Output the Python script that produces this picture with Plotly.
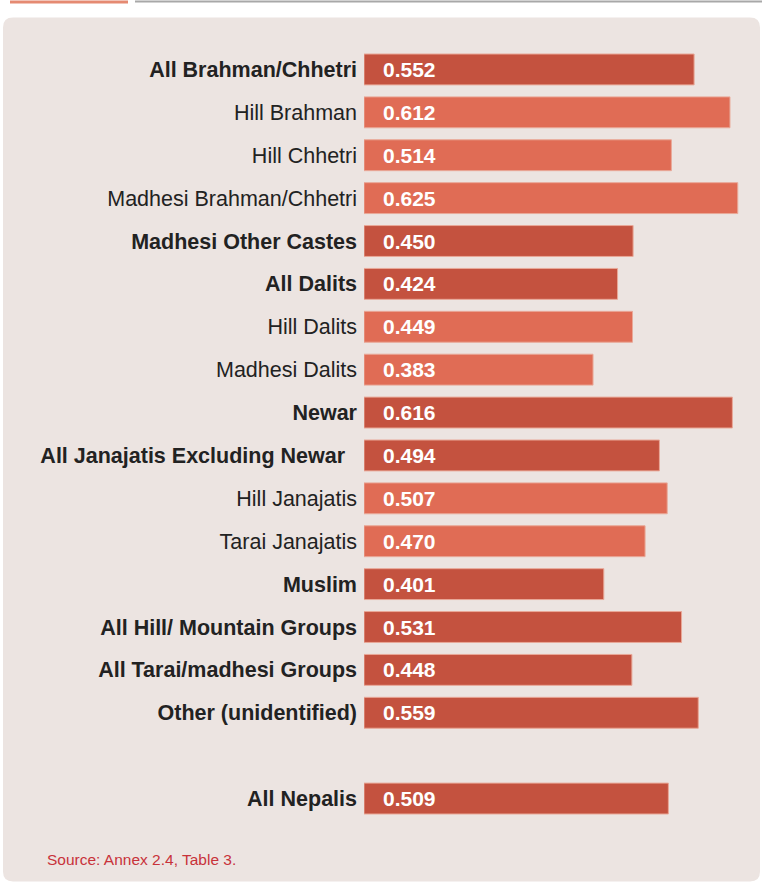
import plotly.graph_objects as go

categories = [
    "All Brahman/Chhetri", "Hill Brahman", "Hill Chhetri", "Madhesi Brahman/Chhetri",
    "Madhesi Other Castes", "All Dalits", "Hill Dalits", "Madhesi Dalits", "Newar",
    "All Janajatis Excluding Newar", "Hill Janajatis", "Tarai Janajatis", "Muslim",
    "All Hill/ Mountain Groups", "All Tarai/madhesi Groups", "Other (unidentified)",
    " ", "All Nepalis",
]
values = [0.552, 0.612, 0.514, 0.625, 0.450, 0.424, 0.449, 0.383, 0.616,
          0.494, 0.507, 0.470, 0.401, 0.531, 0.448, 0.559, None, 0.509]
is_group = [True, False, False, False, True, True, False, False, True,
            True, False, False, True, True, True, True, False, True]
source_text = "Source: Annex 2.4, Table 3."

DARK = "#C4523F"
LIGHT = "#E06C55"
PANEL = "#ECE4E1"

W, H = 762, 884
L, R, T, B = 364, 12, 47.5, 63.5
pw, ph = W - L - R, H - T - B

def px(x):
    return (x - L) / pw

def py(y):
    return (H - B - y) / ph

colors = [DARK if g else LIGHT for g in is_group]
ticktext = []
for c, g in zip(categories, is_group):
    if c.strip() == "":
        ticktext.append(" ")
    elif g:
        label = "<b>" + c + "</b>"
        if c == "All Janajatis Excluding Newar":
            label += "\u00a0\u00a0"
        ticktext.append(label)
    else:
        ticktext.append(c)

fig = go.Figure()
fig.add_trace(go.Bar(
    y=categories, x=values, orientation="h",
    marker=dict(color=colors, line=dict(color="#E9A898", width=1)),
    width=0.72, hoverinfo="skip",
))

annotations = []
for c, v in zip(categories, values):
    if v is None:
        continue
    annotations.append(dict(
        x=0, y=c, xref="x", yref="y", text="<b>%.3f</b>" % v,
        showarrow=False, xanchor="left", yanchor="middle", xshift=17,
        font=dict(family="Liberation Sans, Arial, sans-serif", size=21, color="white"),
    ))
annotations.append(dict(
    x=px(45), y=py(860), xref="paper", yref="paper", text=source_text,
    showarrow=False, xanchor="left", yanchor="middle",
    font=dict(family="Liberation Sans, Arial, sans-serif", size=15.5, color="#C8323A"),
))

# rounded panel
x0, x1, y0, y1, r = 3, 760, 17, 882, 10
path = (f"M {px(x0 + r)},{py(y0)} L {px(x1 - r)},{py(y0)} "
        f"Q {px(x1)},{py(y0)} {px(x1)},{py(y0 + r)} "
        f"L {px(x1)},{py(y1 - r)} Q {px(x1)},{py(y1)} {px(x1 - r)},{py(y1)} "
        f"L {px(x0 + r)},{py(y1)} Q {px(x0)},{py(y1)} {px(x0)},{py(y1 - r)} "
        f"L {px(x0)},{py(y0 + r)} Q {px(x0)},{py(y0)} {px(x0 + r)},{py(y0)} Z")
shapes = [
    dict(type="path", path=path, xref="paper", yref="paper",
         fillcolor=PANEL, line=dict(width=0), layer="below"),
    dict(type="line", xref="paper", yref="paper", x0=px(10), x1=px(128),
         y0=py(1.5), y1=py(1.5), line=dict(color="#E58A72", width=3), layer="below"),
    dict(type="line", xref="paper", yref="paper", x0=px(135), x1=px(762),
         y0=py(1), y1=py(1), line=dict(color="#A8A8A8", width=2), layer="below"),
]

fig.update_layout(
    width=W, height=H,
    margin=dict(l=L, r=R, t=T, b=B, pad=0),
    paper_bgcolor="white", plot_bgcolor="rgba(0,0,0,0)",
    showlegend=False,
    shapes=shapes, annotations=annotations,
    font=dict(family="Liberation Sans, Arial, sans-serif", color="#222222"),
    xaxis=dict(range=[0, pw / 598.0], visible=False, fixedrange=True),
    yaxis=dict(type="category", autorange="reversed", tickvals=categories,
               ticktext=ticktext, showgrid=False, zeroline=False, showline=False,
               ticks="", ticklabelstandoff=6, fixedrange=True,
               tickfont=dict(size=21.5, color="#222222",
                             family="Liberation Sans, Arial, sans-serif")),
)

fig.write_html("out.html", config={"displayModeBar": False},
               post_script="document.body.style.margin='0';document.body.style.overflow='hidden';")
